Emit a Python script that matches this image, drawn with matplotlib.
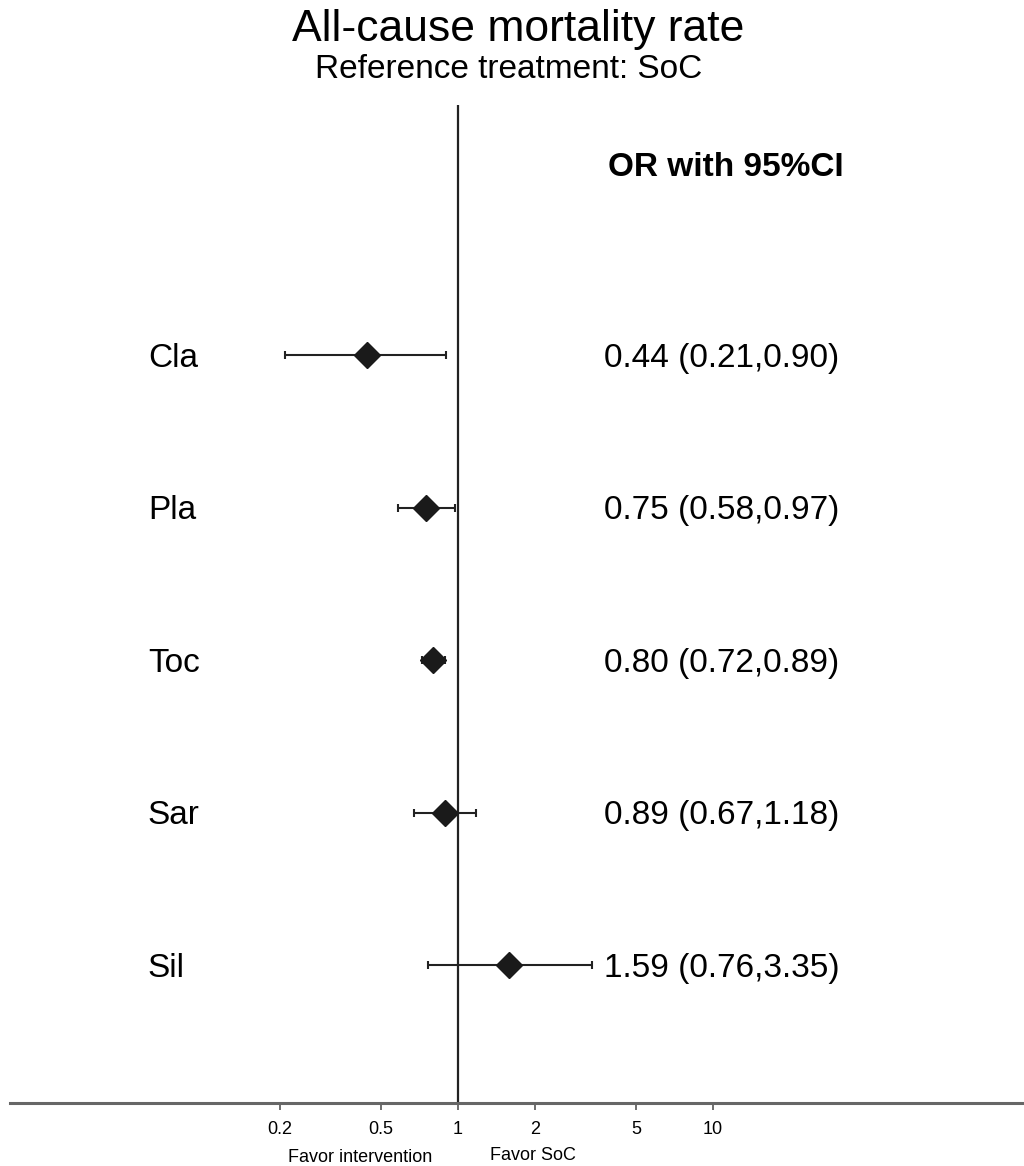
import numpy as np
import matplotlib.pyplot as plt

plt.rcParams['font.family'] = ['Liberation Sans', 'DejaVu Sans']

# data
drugs = ['Cla', 'Pla', 'Toc', 'Sar', 'Sil']
odds = [0.44, 0.75, 0.80, 0.89, 1.59]
lower = [0.21, 0.58, 0.72, 0.67, 0.76]
upper = [0.90, 0.97, 0.89, 1.18, 3.35]
ticks = [0.2, 0.5, 1, 2, 5, 10]
tick_labels = ['0.2', '0.5', '1', '2', '5', '10']

ypos = np.arange(len(drugs), 0, -1)

fig = plt.figure(figsize=(10.24, 11.66), dpi=100)
ax = fig.add_axes([10 / 1024, 63 / 1166, 1014 / 1024, 998 / 1166])

odds = np.array(odds)
err = [odds - np.array(lower), np.array(upper) - odds]
ax.errorbar(odds, ypos, xerr=err, fmt='D', color='#1a1a1a', ms=13,
            ecolor='#222222', elinewidth=1.5, capsize=3, capthick=1.5, zorder=3)

ax.axvline(1, color='#222222', lw=1.6, zorder=2)

ax.set_xscale('log')
ax.set_xlim(10 ** (-448 / 255), 10 ** (566 / 255))
ax.set_ylim(0.095, 6.64)

ax.set_xticks(ticks)
ax.set_xticklabels(tick_labels, fontsize=13)
ax.minorticks_off()
ax.tick_params(axis='x', direction='out', length=5, width=1.2, color='#555555', pad=8)
ax.set_yticks([])

for s in ['left', 'top', 'right']:
    ax.spines[s].set_visible(False)
ax.spines['bottom'].set_color('#666666')
ax.spines['bottom'].set_linewidth(2.2)

for i in range(len(drugs)):
    ax.text(0.136, ypos[i] - 0.02, drugs[i], transform=ax.get_yaxis_transform(),
            fontsize=24, ha='left', va='center')
    ax.text(0.586, ypos[i] - 0.02, '%.2f (%.2f,%.2f)' % (odds[i], lower[i], upper[i]),
            transform=ax.get_yaxis_transform(), fontsize=24, ha='left', va='center')

ax.text(0.590, 6.23, 'OR with 95%CI', transform=ax.get_yaxis_transform(),
        fontsize=24, fontweight='bold', ha='left', va='center')

fig.text(360 / 1024, 1 - 1157 / 1166, 'Favor intervention', fontsize=13, ha='center', va='center')
fig.text(533 / 1024, 1 - 1155 / 1166, 'Favor SoC', fontsize=13, ha='center', va='center')

fig.text(518 / 1024, 1 - 30 / 1166, 'All-cause mortality rate', fontsize=32, ha='center', va='center')
fig.text(509 / 1024, 1 - 70 / 1166, 'Reference treatment: SoC', fontsize=24, ha='center', va='center')

fig.savefig('out.png', dpi=100)
